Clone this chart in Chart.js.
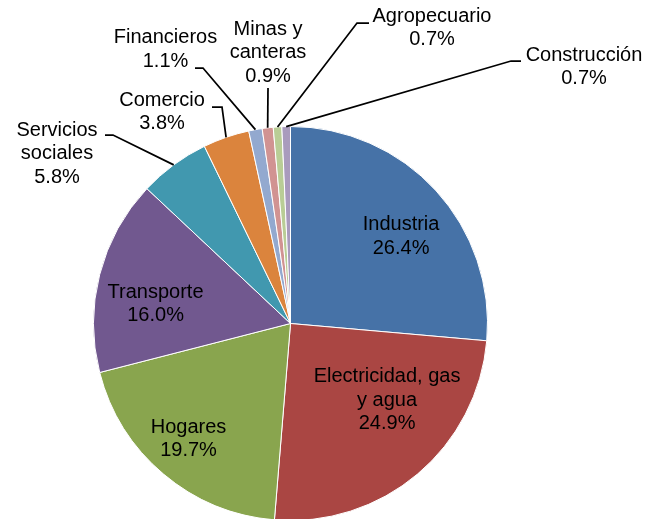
<!DOCTYPE html>
<html>
<head>
<meta charset="utf-8">
<script src="https://cdn.jsdelivr.net/npm/chart.js@4"></script>
<style>
html,body{margin:0;padding:0;background:#fff;}
#wrap{width:662px;height:519px;position:relative;overflow:hidden;}
</style>
</head>
<body>
<div id="wrap"><canvas id="c" width="662" height="519"></canvas></div>
<script>
// ---- data ----
const categories = ["Industria","Electricidad, gas y agua","Hogares","Transporte","Servicios sociales","Comercio","Financieros","Minas y canteras","Agropecuario","Construcción"];
const shares = [26.4, 24.9, 19.7, 16.0, 5.8, 3.8, 1.1, 0.9, 0.7, 0.7];
const labelLines = [
  ["Industria"],
  ["Electricidad, gas","y agua"],
  ["Hogares"],
  ["Transporte"],
  ["Servicios","sociales"],
  ["Comercio"],
  ["Financieros"],
  ["Minas y","canteras"],
  ["Agropecuario"],
  ["Construcción"]
];

// ---- style / layout ----
const colors = ["#4672A7","#AA4643","#89A54E","#71588F","#4198AF","#DB843D","#93A9CF","#D19392","#B9CD96","#A99BBD"];
// inside labels: angle shift (deg, clockwise) and radius fraction
const insideLayout = {
  0: {dAng: 4.3, frac: 0.714},
  1: {dAng: -11.4, frac: 0.626},
  2: {dAng: 1.3, frac: 0.782},
  3: {dAng: -6.2, frac: 0.692}
};
// outside labels: text centre x, first line y, leader end & elbow
const outsideLayout = {
  4: {cx: 57, y0: 130, end: [105,135], elbow: [113,135]},
  5: {cx: 162, y0: 100, end: [212,107], elbow: [222,107]},
  6: {cx: 165.5, y0: 37.5, end: [195,68], elbow: [203,68]},
  7: {cx: 268, y0: 29, end: [268,88], elbow: null},
  8: {cx: 432, y0: 16, end: [369,23], elbow: [357,23]},
  9: {cx: 584, y0: 55, end: [521,61], elbow: [511,61]}
};
const LINE_H = 23.5;
const FONT = '20px "Liberation Sans", Arial, sans-serif';

const labelPlugin = {
  id: 'pieLabels',
  afterDatasetsDraw(chart) {
    const ctx = chart.ctx;
    const meta = chart.getDatasetMeta(0);
    ctx.save();
    ctx.font = FONT;
    ctx.fillStyle = '#000';
    ctx.textAlign = 'center';
    ctx.textBaseline = 'middle';
    meta.data.forEach((arc, i) => {
      const lines = labelLines[i].concat([shares[i].toFixed(1) + '%']);
      const mid = (arc.startAngle + arc.endAngle) / 2;
      if (insideLayout[i]) {
        const L = insideLayout[i];
        const a = mid + L.dAng * Math.PI / 180;
        const r = arc.outerRadius * L.frac;
        const cx = arc.x + Math.cos(a) * r;
        const cy = arc.y + Math.sin(a) * r;
        const top = cy - (lines.length - 1) * LINE_H / 2;
        lines.forEach((t, k) => ctx.fillText(t, cx, top + k * LINE_H));
      } else if (outsideLayout[i]) {
        const L = outsideLayout[i];
        const ex = arc.x + Math.cos(mid) * arc.outerRadius;
        const ey = arc.y + Math.sin(mid) * arc.outerRadius;
        ctx.beginPath();
        ctx.strokeStyle = '#000';
        ctx.lineWidth = 1.75;
        ctx.moveTo(L.end[0], L.end[1]);
        if (L.elbow) ctx.lineTo(L.elbow[0], L.elbow[1]);
        ctx.lineTo(ex, ey);
        ctx.stroke();
        lines.forEach((t, k) => ctx.fillText(t, L.cx, L.y0 + k * LINE_H));
      }
    });
    ctx.restore();
  }
};

new Chart(document.getElementById('c'), {
  type: 'pie',
  data: {
    labels: categories,
    datasets: [{
      data: shares,
      backgroundColor: colors,
      borderColor: '#ffffff',
      borderWidth: 1,
      radius: 197
    }]
  },
  options: {
    responsive: false,
    animation: false,
    devicePixelRatio: 1,
    layout: {padding: {left: 92, right: 173, top: 128, bottom: 0}},
    plugins: {legend: {display: false}, tooltip: {enabled: false}}
  },
  plugins: [labelPlugin]
});
</script>
</body>
</html>
